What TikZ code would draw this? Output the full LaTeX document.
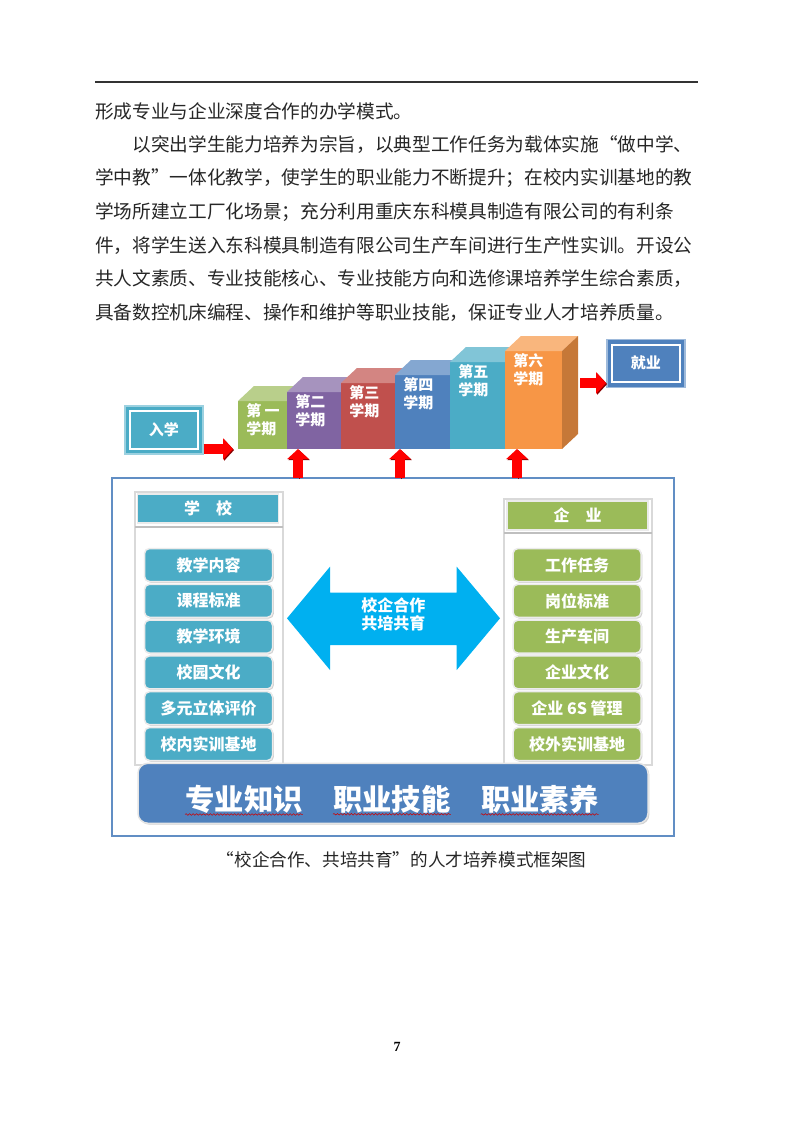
\documentclass[tikz,border=0pt]{standalone}
\usepackage{fontspec}
\usepackage{tikz}
\usetikzlibrary{positioning,arrows.meta,shadows,decorations.pathmorphing}
\newfontfamily\cjk{Noto Sans CJK SC}
\newfontfamily\pgnum{Liberation Serif}
\XeTeXlinebreaklocale "zh"
\XeTeXlinebreakskip=0pt plus 1pt minus 0.3pt
\newlength\pxl
\setlength\pxl{0.75pt}
\newcommand\fullpar{\parfillskip=0pt\relax}
\definecolor{greenc}{HTML}{9BBB59}
\definecolor{purplec}{HTML}{8064A2}
\definecolor{redc}{HTML}{C0504D}
\definecolor{bluec}{HTML}{4F81BD}
\definecolor{tealc}{HTML}{4BACC6}
\definecolor{orangec}{HTML}{F79646}
\definecolor{coopc}{HTML}{00B0F0}
\definecolor{arrowred}{HTML}{FF0000}
\definecolor{arrowdark}{HTML}{8B0000}
\tikzset{
  bodyline/.style={anchor=west, inner sep=0pt, text width=602\pxl, align=justify,
    font=\cjk\fontsize{14pt}{20pt}\selectfont, text=black!85},
  semface/.style={inner sep=0pt, outer sep=0pt, anchor=south west},
  semtext/.style={font=\cjk\bfseries\fontsize{11.25pt}{13.5pt}\selectfont, text=white,
    align=left, inner sep=0pt, anchor=north west},
  endbox/.style={fill=#1, draw=#1!55!white, line width=1.5\pxl, text=white,
    font=\cjk\bfseries\fontsize{11.25pt}{13pt}\selectfont,
    minimum width=78\pxl, minimum height=48\pxl, inner sep=0pt},
  redarrow/.style={line width=7.5pt, draw=arrowred,
    -{Triangle[width=15.75pt,length=7.5pt]},
    preaction={draw=arrowdark, transform canvas={xshift=0.8pt,yshift=-0.8pt}}},
  panel/.style={draw=black!15, line width=1.5\pxl, fill=white,
    drop shadow={shadow xshift=1pt, shadow yshift=-1pt, fill=black!30, opacity=0.6}},
  headbox/.style={fill=#1, draw=black!8, line width=1.5\pxl, text=white,
    font=\cjk\bfseries\fontsize{12pt}{14pt}\selectfont,
    minimum width=141\pxl, minimum height=29\pxl, inner sep=0pt},
  itembox/.style={fill=#1, draw=black!8, line width=1.5\pxl, rounded corners=5\pxl,
    text=white, font=\cjk\bfseries\fontsize{12pt}{14pt}\selectfont,
    minimum width=128\pxl, minimum height=33\pxl, inner sep=0pt,
    drop shadow={shadow xshift=1pt, shadow yshift=-1pt, fill=black!30, opacity=0.6}},
  bartext/.style={font=\cjk\bfseries\fontsize{22pt}{24pt}\selectfont, text=white, inner sep=0pt},
  spell/.style={draw=red!80!black, line width=0.4pt,
    decorate, decoration={snake, amplitude=0.6pt, segment length=2.6pt}},
}
\begin{document}
\begin{tikzpicture}[x=0.75pt, y=-0.75pt]
\useasboundingbox (0,0) rectangle (793,1121);
% page text
\draw[line width=1.5\pxl, black!80] (95,82) -- (698,82);
\node[bodyline] (t1) at (95,111) {形成专业与企业深度合作的办学模式。};
\node[bodyline] (t2) at (95,144.6) {\fullpar\hspace*{2em}以突出学生能力培养为宗旨，以典型工作任务为载体实施“做中学、};
\node[bodyline] (t3) at (95,178.2) {\fullpar 学中教”一体化教学，使学生的职业能力不断提升；在校内实训基地的教};
\node[bodyline] (t4) at (95,211.8) {\fullpar 学场所建立工厂化场景；充分利用重庆东科模具制造有限公司的有利条};
\node[bodyline] (t5) at (95,245.4) {\fullpar 件，将学生送入东科模具制造有限公司生产车间进行生产性实训。开设公};
\node[bodyline] (t6) at (95,279) {\fullpar 共人文素质、专业技能核心、专业技能方向和选修课培养学生综合素质，};
\node[bodyline] (t7) at (95,312.6) {具备数控机床编程、操作和维护等职业技能，保证专业人才培养质量。};

% semesters
\foreach \xl/\xr/\yt/\cc/\nm [count=\i] in {238/287/401/greenc/{第\ 一}, 287/341/392/purplec/第二,
    341/395/383/redc/第三, 395/450/375/bluec/第四, 450/505/362/tealc/第五, 505/562/351/orangec/第六}{
  \node[semface, fill=\cc, minimum width={(\xr-\xl)*0.75pt}, minimum height={(449-\yt)*0.75pt}] (s\i) at (\xl,449) {};
  \fill[\cc!70!white] (s\i.north west) -- ++(16,-15) -- ([shift={(16,-15)}]s\i.north east) -- (s\i.north east) -- cycle;
  \fill[\cc!80!black] (s\i.north east) -- ++(16,-15) -- ([shift={(16,-15)}]s\i.south east) -- (s\i.south east) -- cycle;
  \node[semtext] at ([shift={(8,2)}]s\i.north west) {\nm\\学期};
}
\node[endbox=tealc] (ruxue) at (163.8,430) {入学};
\draw[white, line width=2\pxl] ([shift={(6,6)}]ruxue.north west) rectangle ([shift={(-6,-6)}]ruxue.south east);
\node[endbox=bluec] (jiuye) at (645.8,363.3) {就业};
\draw[white, line width=2\pxl] ([shift={(6,6)}]jiuye.north west) rectangle ([shift={(-6,-6)}]jiuye.south east);

% frame
\draw[bluec!90!white, line width=2.5\pxl] (112,478) rectangle (674,836);
\coordinate (u1) at (298,478);
\coordinate (u2) at (400,478);
\coordinate (u3) at (517,478);
\coordinate (out) at (580,383);
\draw[redarrow] (ruxue.east |- s1.south west) -- ([xshift=-3.75pt]s1.south west);
\draw[redarrow] (out) -- (jiuye.west |- out);
\draw[redarrow] (u1) -- (u1 |- s2.south);
\draw[redarrow] (u2) -- (u2 |- s4.south);
\draw[redarrow] (u3) -- (u3 |- s6.south);

% school and enterprise
\draw[panel] (135,492) rectangle (283,765);
\draw[black!25, line width=1.2\pxl] (135,527) -- (283,527);
\node[headbox=tealc] (xx) at (208,508.5) {学\quad 校};
\draw[panel] (504,499) rectangle (652,765);
\draw[black!25, line width=1.2\pxl] (504,533) -- (652,533);
\node[headbox=greenc] (qy) at (577.5,515.3) {企\quad 业};

\node[itembox=tealc] (l1) at (208.5,565) {教学内容};
\node[itembox=tealc] (l2) at (208.5,600.8) {课程标准};
\node[itembox=tealc] (l3) at (208.5,636.6) {教学环境};
\node[itembox=tealc] (l4) at (208.5,672.4) {校园文化};
\node[itembox=tealc] (l5) at (208.5,708.2) {多元立体评价};
\node[itembox=tealc] (l6) at (208.5,744) {校内实训基地};
\node[itembox=greenc] (r1) at (577,565) {工作任务};
\node[itembox=greenc] (r2) at (577,600.8) {岗位标准};
\node[itembox=greenc] (r3) at (577,636.6) {生产车间};
\node[itembox=greenc] (r4) at (577,672.4) {企业文化};
\node[itembox=greenc] (r5) at (577,708.2) {企业 6S 管理};
\node[itembox=greenc] (r6) at (577,744) {校外实训基地};

\fill[coopc] (287,618.3) -- (330,566.7) -- (330,592.7) -- (456.7,592.7) -- (456.7,566.7) -- (500,618.3)
  -- (456.7,670) -- (456.7,645) -- (330,645) -- (330,670) -- cycle;
\node[font=\cjk\bfseries\fontsize{12pt}{13.5pt}\selectfont, text=white, align=center] (coop) at (393.3,614) {校企合作\\共培共育};

\node[fill=bluec, draw=black!10, line width=1.5\pxl, rounded corners=10\pxl, minimum width=510\pxl, minimum height=60\pxl,
  drop shadow={shadow xshift=1pt, shadow yshift=-1pt, fill=black!30, opacity=0.6}] (base) at (393,793.3) {};
\node[bartext] (zhishi) at (244,799) {专业知识};
\node[bartext, right=22.5pt of zhishi] (jineng) {职业技能};
\node[bartext, right=22.5pt of jineng] (suyang) {职业素养};
\draw[spell] ([yshift=-0.75pt]zhishi.south west) -- ([yshift=-0.75pt]zhishi.south east);
\draw[spell] ([yshift=-0.75pt]jineng.south west) -- ([yshift=-0.75pt]jineng.south east);
\draw[spell] ([yshift=-0.75pt]suyang.south west) -- ([yshift=-0.75pt]suyang.south east);

\node[font=\cjk\fontsize{13.2pt}{15pt}\selectfont, text=black!85, inner sep=0pt] (cap) at (401.7,860) {“校企合作、共培共育”的人才培养模式框架图};
\node[font=\pgnum\bfseries\fontsize{10.5pt}{12pt}\selectfont, inner sep=0pt] (pg) at (397,1047) {7};
\end{tikzpicture}
\end{document}
